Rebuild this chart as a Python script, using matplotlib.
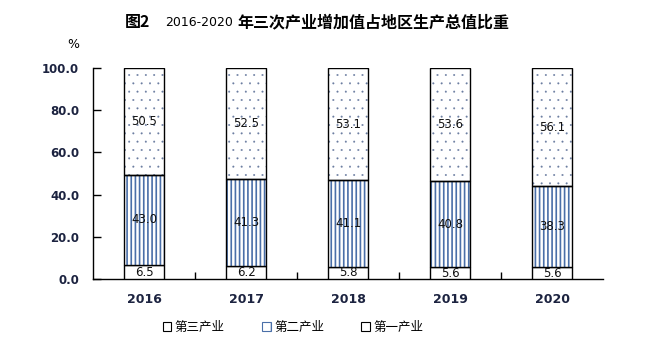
import matplotlib
matplotlib.use("Agg")
import matplotlib.pyplot as plt
from matplotlib.patches import Patch
import numpy as np

plt.rcParams['font.family'] = ['Noto Sans CJK SC', 'DejaVu Sans']

years = ['2016', '2017', '2018', '2019', '2020']
primary = [6.5, 6.2, 5.8, 5.6, 5.6]      # 第一产业
secondary = [43.0, 41.3, 41.1, 40.8, 38.3]  # 第二产业
tertiary = [50.5, 52.5, 53.1, 53.6, 56.1]   # 第三产业
yticks = [0, 20, 40, 60, 80, 100]
title_parts = ['图2', '2016-2020', '年三次产业增加值占地区生产总值比重']
legend_labels = ['第三产业', '第二产业', '第一产业']

fig = plt.figure(figsize=(6.52, 3.62), dpi=100)
ax = fig.add_axes([93/652, 1-279/362, 510/652, 211/362])

x = np.arange(len(years))
w = 0.4
p = np.array(primary)
s = np.array(secondary)
t = np.array(tertiary)

line_col = '#4a6fa8'
dot_col = '#6a7ca0'

# bottom segment
ax.bar(x, p, w, color='white', edgecolor='black', linewidth=1.0, zorder=3)
# middle hatched
plt.rcParams['hatch.linewidth'] = 1.2
ax.bar(x, s, w, bottom=p, color='white', edgecolor=line_col, hatch='||||', linewidth=0, zorder=3)
ax.bar(x, s, w, bottom=p, fill=False, edgecolor='black', linewidth=1.0, zorder=4)
# top dotted
plt.rcParams['hatch.linewidth'] = 0.2
ax.bar(x, t, w, bottom=p + s, color='white', edgecolor=dot_col, hatch='..', linewidth=0, zorder=3)
ax.bar(x, t, w, bottom=p + s, fill=False, edgecolor='black', linewidth=1.0, zorder=4)

txt_col = '#111111'
for i in range(len(years)):
    ax.text(x[i], p[i] / 2, f'{p[i]:.1f}', ha='center', va='center', fontsize=8.5,
            color=txt_col, family='DejaVu Sans', zorder=5)
    ax.text(x[i], p[i] + s[i] / 2, f'{s[i]:.1f}', ha='center', va='center', fontsize=8.5,
            color=txt_col, family='DejaVu Sans', zorder=5)
    ax.text(x[i], p[i] + s[i] + t[i] / 2, f'{t[i]:.1f}', ha='center', va='center', fontsize=8.5,
            color=txt_col, family='DejaVu Sans', zorder=5)

ax.set_xlim(-0.5, len(years) - 0.5)
ax.set_ylim(0, 100)
ax.set_yticks(yticks)
ax.set_yticklabels([f'{v:.1f}' for v in yticks], fontsize=8.5, fontweight='bold',
                   color='#1c2340', family='DejaVu Sans')
ax.set_xticks(x)
ax.set_xticklabels(years, fontsize=9, fontweight='bold', color='#1c2340', family='DejaVu Sans')
ax.tick_params(axis='x', length=0, pad=10)
ax.set_xticks(np.arange(len(years) - 1) + 0.5, minor=True)
ax.tick_params(axis='x', which='minor', direction='in', length=5, width=1)
ax.tick_params(axis='y', direction='in', length=6, width=1, pad=10)
for side in ['top', 'right']:
    ax.spines[side].set_visible(False)
for side in ['left', 'bottom']:
    ax.spines[side].set_linewidth(1.0)
    ax.spines[side].set_color('black')

fig.text(73/652, 1-44/362, '%', fontsize=9, ha='center', va='center', family='DejaVu Sans')

# title
fig.text(125/652, 1-22/362, title_parts[0], fontsize=11.5, fontweight='bold', ha='left', va='center')
fig.text(165/652, 1-22/362, title_parts[1], fontsize=9, ha='left', va='center', family='DejaVu Sans')
fig.text(237/652, 1-22/362, title_parts[2], fontsize=11.5, fontweight='bold', ha='left', va='center')

handles = [Patch(facecolor='white', edgecolor='black', linewidth=0.8),
           Patch(facecolor='white', edgecolor=line_col, hatch='||', linewidth=0.8),
           Patch(facecolor='white', edgecolor='black', linewidth=0.8)]
leg = fig.legend(handles, legend_labels, loc='center', bbox_to_anchor=(293/652, 1-327/362),
                 ncol=3, frameon=False, fontsize=9, handlelength=0.7, handleheight=0.7,
                 handletextpad=0.25, columnspacing=3.0)

fig.savefig('out.png', dpi=100)
